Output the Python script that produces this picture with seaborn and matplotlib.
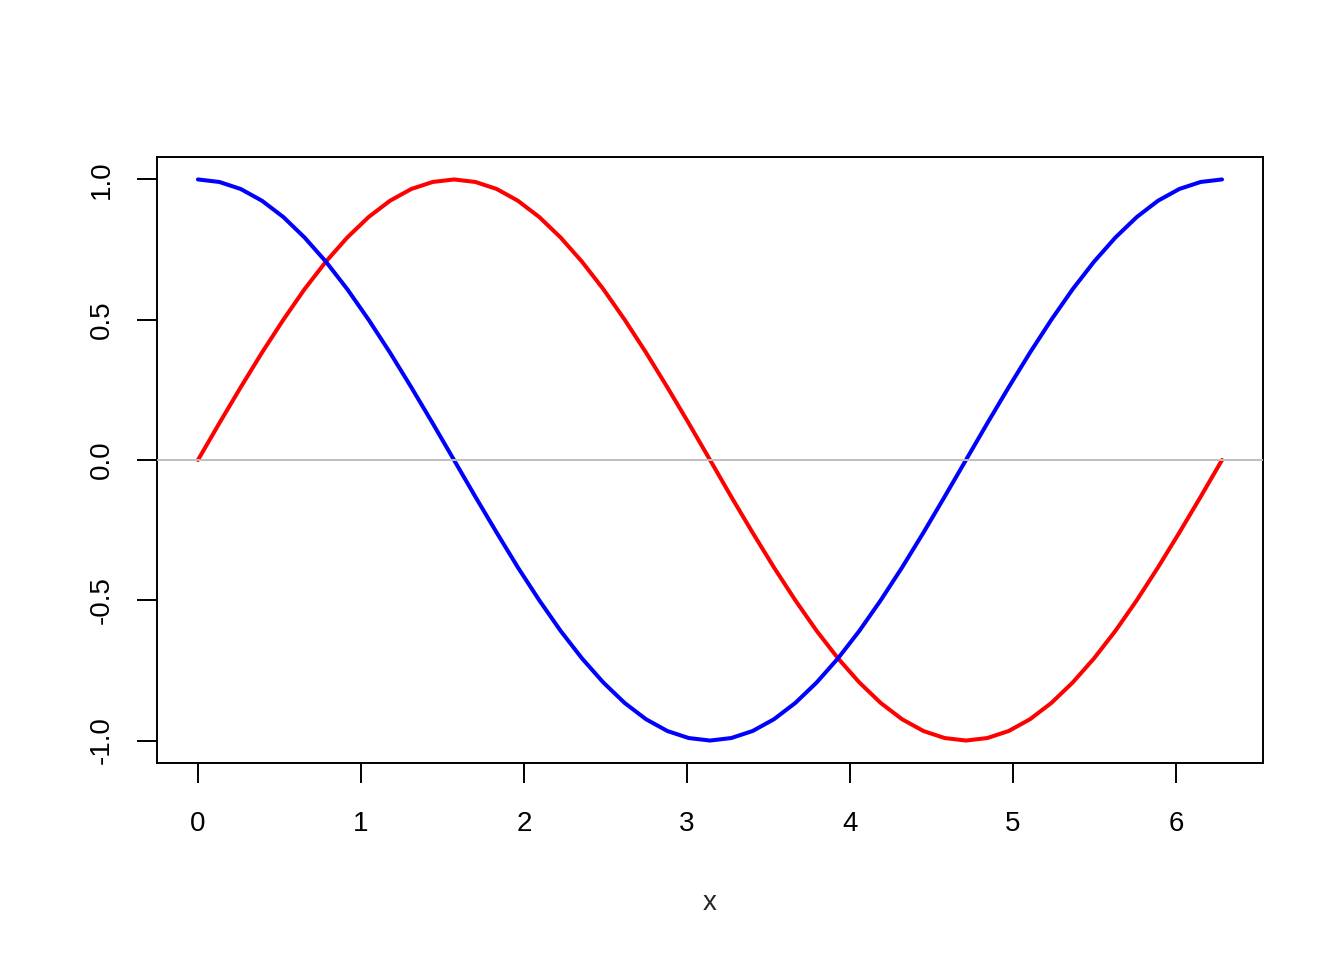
import pandas as pd
import seaborn as sns
from matplotlib import pyplot as plt

# 49 points from 0 to 2*pi (steps of pi/24)
x = [0.000, 0.131, 0.262, 0.393, 0.524, 0.654, 0.785, 0.916, 1.047, 1.178,
     1.309, 1.440, 1.571, 1.702, 1.833, 1.963, 2.094, 2.225, 2.356, 2.487,
     2.618, 2.749, 2.880, 3.011, 3.142, 3.272, 3.403, 3.534, 3.665, 3.796,
     3.927, 4.058, 4.189, 4.320, 4.451, 4.581, 4.712, 4.843, 4.974, 5.105,
     5.236, 5.367, 5.498, 5.629, 5.760, 5.890, 6.021, 6.152, 6.283]
sin_y = [0.000, 0.131, 0.259, 0.383, 0.500, 0.609, 0.707, 0.793, 0.866, 0.924,
         0.966, 0.991, 1.000, 0.991, 0.966, 0.924, 0.866, 0.793, 0.707, 0.609,
         0.500, 0.383, 0.259, 0.131, 0.000, -0.131, -0.259, -0.383, -0.500, -0.609,
         -0.707, -0.793, -0.866, -0.924, -0.966, -0.991, -1.000, -0.991, -0.966, -0.924,
         -0.866, -0.793, -0.707, -0.609, -0.500, -0.383, -0.259, -0.131, 0.000]
cos_y = [1.000, 0.991, 0.966, 0.924, 0.866, 0.793, 0.707, 0.609, 0.500, 0.383,
         0.259, 0.131, 0.000, -0.131, -0.259, -0.383, -0.500, -0.609, -0.707, -0.793,
         -0.866, -0.924, -0.966, -0.991, -1.000, -0.991, -0.966, -0.924, -0.866, -0.793,
         -0.707, -0.609, -0.500, -0.383, -0.259, -0.131, 0.000, 0.131, 0.259, 0.383,
         0.500, 0.609, 0.707, 0.793, 0.866, 0.924, 0.966, 0.991, 1.000]
x_ticks = [0, 1, 2, 3, 4, 5, 6]
y_ticks = [-1.0, -0.5, 0.0, 0.5, 1.0]
y_tick_labels = ['-1.0', '-0.5', '0.0', '0.5', '1.0']

df = pd.DataFrame({'x': x * 2,
                   'y': sin_y + cos_y,
                   'fn': ['sin'] * len(x) + ['cos'] * len(x)})

sns.set_style("white")
plt.rcParams['font.family'] = ['Liberation Sans', 'DejaVu Sans']

fig = plt.figure(figsize=(13.44, 9.6), dpi=100)
ax = fig.add_axes([157 / 1344, 1 - 763 / 960, (1263 - 157) / 1344, (763 - 157) / 960])

sns.lineplot(data=df, x='x', y='y', hue='fn', hue_order=['sin', 'cos'],
             palette={'sin': 'red', 'cos': 'blue'}, linewidth=2.9,
             legend=False, ax=ax, sort=False)
ax.axhline(0, color='#BEBEBE', linewidth=1.4, zorder=5)

ax.set_xlim(-0.2513, 6.5345)
ax.set_ylim(-1.08, 1.08)
ax.set_xticks(x_ticks)
ax.set_yticks(y_ticks)
ax.set_xticklabels([str(t) for t in x_ticks])
ax.set_yticklabels(y_tick_labels, rotation=90, va='center')
for s in ax.spines.values():
    s.set_visible(True)
    s.set_color('black')
    s.set_linewidth(1.4)
ax.tick_params(axis='both', direction='out', length=14.4, width=1.4, color='black',
               labelsize=20, labelcolor='black', left=True, bottom=True)
ax.tick_params(axis='x', pad=20)
ax.tick_params(axis='y', pad=16)
ax.set_xlabel('x', fontsize=20, labelpad=38)
ax.set_ylabel('')

plt.savefig('out.png', dpi=100)
